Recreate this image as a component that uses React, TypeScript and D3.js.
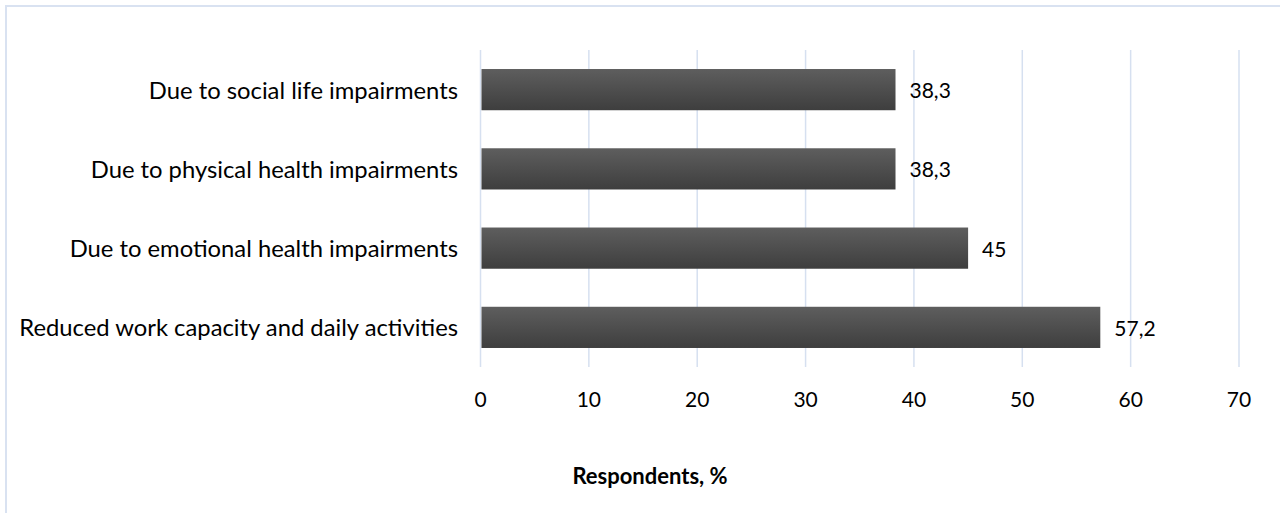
import React from "react";
import * as d3 from "d3";

const categories = [
  "Due to social life impairments",
  "Due to physical health impairments",
  "Due to emotional health impairments",
  "Reduced work capacity and daily activities",
];
const values = [38.3, 38.3, 45, 57.2];
const valueLabels = ["38,3", "38,3", "45", "57,2"];
const xTicks = [0, 10, 20, 30, 40, 50, 60, 70];
const axisTitle = "Respondents, %";

const W = 1280;
const H = 513;
const FONT = "Lato, 'Open Sans', sans-serif";

export default function App() {
  const x = d3.scaleLinear().domain([0, 70]).range([480.5, 1239]);
  const y = d3
    .scaleBand<string>()
    .domain(categories)
    .range([50, 367])
    .paddingInner(0.48)
    .paddingOuter(0.24);

  return (
    <svg
      width={W}
      height={H}
      style={{ position: "absolute", left: 0, top: 0, background: "#fff" }}
    >
      <defs>
        <linearGradient id="barGrad" x1="0" y1="0" x2="0" y2="1">
          <stop offset="0%" stopColor="#5e5e5e" />
          <stop offset="100%" stopColor="#3e3e3e" />
        </linearGradient>
      </defs>
      <rect x={0} y={0} width={W} height={H} fill="#fff" />
      <rect
        x={6}
        y={6}
        width={W + 20}
        height={H + 20}
        fill="none"
        stroke="#d9e2f1"
        strokeWidth={2}
      />
      {xTicks.map((t) => (
        <line
          key={"g" + t}
          x1={x(t)}
          x2={x(t)}
          y1={50}
          y2={367}
          stroke="#d6e0f0"
          strokeWidth={1.5}
        />
      ))}
      {categories.map((c, i) => (
        <rect
          key={"b" + c}
          x={x(0) + 1}
          y={y(c)!}
          width={x(values[i]) - x(0) - 1}
          height={y.bandwidth()}
          fill="url(#barGrad)"
        />
      ))}
      {categories.map((c, i) => (
        <text
          key={"v" + c}
          x={x(values[i]) + 14}
          y={y(c)! + y.bandwidth() / 2}
          dominantBaseline="central"
          fontFamily={FONT}
          fontSize={21}
          fill="#000"
        >
          {valueLabels[i]}
        </text>
      ))}
      {categories.map((c) => (
        <text
          key={"c" + c}
          x={458}
          y={y(c)! + y.bandwidth() / 2}
          dominantBaseline="central"
          textAnchor="end"
          fontFamily={FONT}
          fontSize={23.8}
          fill="#000"
        >
          {c}
        </text>
      ))}
      {xTicks.map((t) => (
        <text
          key={"t" + t}
          x={x(t)}
          y={407}
          textAnchor="middle"
          fontFamily={FONT}
          fontSize={21}
          fill="#000"
        >
          {t}
        </text>
      ))}
      <text
        x={650}
        y={484}
        textAnchor="middle"
        fontFamily={FONT}
        fontSize={22}
        fontWeight="bold"
        fill="#000"
      >
        {axisTitle}
      </text>
    </svg>
  );
}
